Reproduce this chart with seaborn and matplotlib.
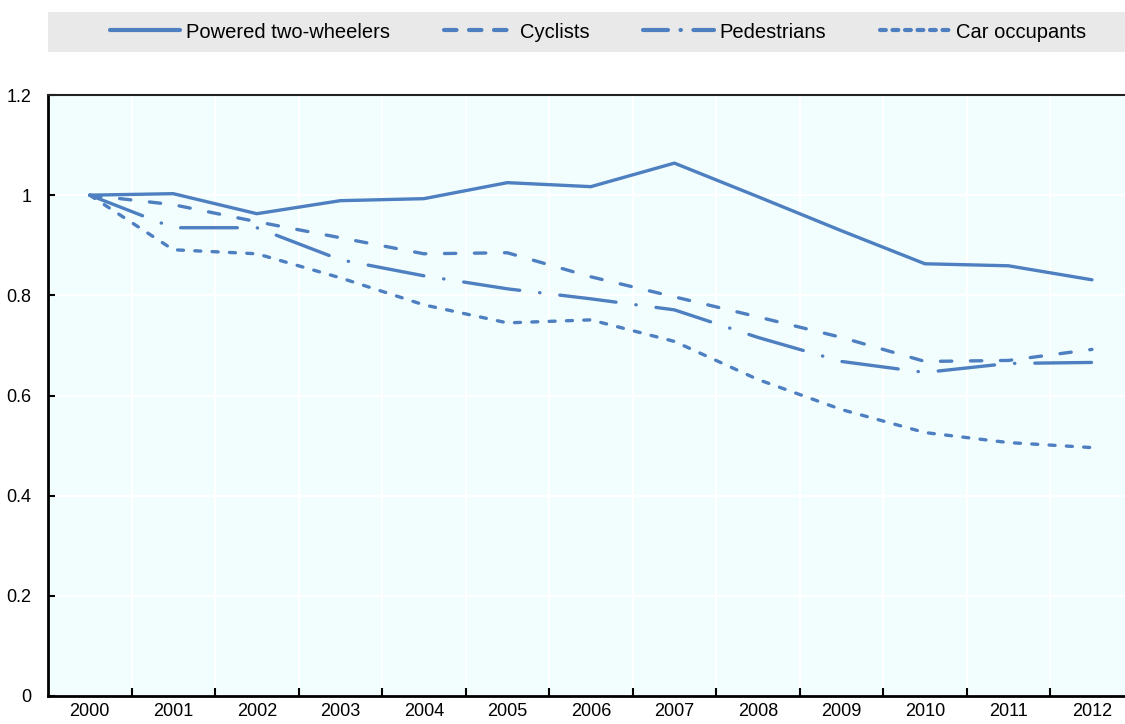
import matplotlib
matplotlib.use("Agg")
import matplotlib.pyplot as plt
import seaborn as sns
import pandas as pd
from matplotlib.patches import Rectangle
from matplotlib.lines import Line2D
from matplotlib.ticker import FixedLocator

years = [str(y) for y in range(2000, 2013)]
powered_two_wheelers = [1.0, 1.003, 0.963, 0.989, 0.993, 1.025, 1.017, 1.064, 0.997, 0.929, 0.863, 0.859, 0.831]
cyclists = [1.0, 0.981, 0.947, 0.915, 0.883, 0.885, 0.837, 0.797, 0.757, 0.716, 0.668, 0.670, 0.692]
pedestrians = [1.0, 0.935, 0.935, 0.871, 0.839, 0.813, 0.793, 0.771, 0.716, 0.668, 0.646, 0.664, 0.666]
car_occupants = [1.0, 0.891, 0.883, 0.835, 0.781, 0.745, 0.751, 0.708, 0.632, 0.572, 0.526, 0.506, 0.496]
series_names = ["Powered two-wheelers", "Cyclists", "Pedestrians", "Car occupants"]
y_ticks = [0, 0.2, 0.4, 0.6, 0.8, 1.0, 1.2]
y_tick_labels = ["0", "0.2", "0.4", "0.6", "0.8", "1", "1.2"]

rows = []
for name, vals in zip(series_names, [powered_two_wheelers, cyclists, pedestrians, car_occupants]):
    for i, v in enumerate(vals):
        rows.append({"x": i, "value": v, "series": name})
df = pd.DataFrame(rows)

sns.set_theme(style="white")
plt.rcParams["font.family"] = ["Liberation Sans", "DejaVu Sans"]
tick_fs = 13
leg_fs = 14.5

color = "#4E7FC0"
W, H = 1125, 724
fig = plt.figure(figsize=(W / 100, H / 100), dpi=100)
ax = fig.add_axes([48 / W, 1 - 696 / H, (W - 48) / W, (696 - 95) / H])
ax.set_facecolor("#F2FEFE")

dashes = {
    "Powered two-wheelers": "",
    "Cyclists": (3.4, 5.6),
    "Pedestrians": (17, 6, 0.1, 6),
    "Car occupants": (1.8, 3.4),
}
lw = 2.4
sns.lineplot(data=df, x="x", y="value", hue="series", style="series",
             palette=[color] * 4, dashes=dashes, linewidth=lw, ax=ax,
             hue_order=series_names, style_order=series_names, legend=False)
for line in ax.lines:
    line.set_dash_capstyle("round")
    line.set_solid_capstyle("round")

ax.set_xlim(-0.5, 12 + (W - 1092) / 83.4)
ax.set_ylim(0, 1.2)
ax.xaxis.set_major_locator(FixedLocator(range(len(years))))
ax.set_xticklabels(years)
ax.xaxis.set_minor_locator(FixedLocator([i + 0.5 for i in range(len(years) - 1)]))
ax.set_yticks(y_ticks)
ax.set_yticklabels(y_tick_labels)
ax.set_xlabel("")
ax.set_ylabel("")
ax.tick_params(axis="x", which="major", length=0, labelsize=tick_fs, pad=5, colors="black")
ax.tick_params(axis="x", which="minor", length=6, width=1.5, direction="in", bottom=True, color="black")
ax.tick_params(axis="y", which="major", length=5, width=1.5, direction="in", left=True,
               labelsize=tick_fs, pad=12, colors="black")

ax.grid(False)
for y in y_ticks[1:-1]:
    ax.axhline(y, color="white", linewidth=1.5, zorder=0.5)
for xb in [i + 0.5 for i in range(len(years) - 1)]:
    ax.axvline(xb, color="white", linewidth=1.5, zorder=0.5)

for s in ["left", "bottom"]:
    ax.spines[s].set_color("black")
    ax.spines[s].set_linewidth(2)
ax.spines["top"].set_color("#222222")
ax.spines["top"].set_linewidth(1.5)
ax.spines["right"].set_visible(False)

# legend band
fig.patches.append(Rectangle((48 / W, 1 - 52 / H), (W - 48) / W, 40 / H,
                             transform=fig.transFigure, facecolor="#E9E9E9",
                             edgecolor="none", zorder=0))
legend_dashes = [None, (3.0, 3.0), (6, 3.0, 0.1, 3.0), (1.4, 1.6)]
handles = []
for d in legend_dashes:
    h = Line2D([], [], color=color, linewidth=lw + 0.6)
    if d is None:
        h.set_linestyle("-")
    else:
        h.set_dashes(d)
        h.set_dash_capstyle("round")
    handles.append(h)
leg = fig.legend(handles, series_names, loc="center", ncol=4,
                 bbox_to_anchor=(598 / W, 1 - 32 / H),
                 frameon=False, fontsize=leg_fs, handlelength=3.5, handletextpad=0.3,
                 columnspacing=2.65)
for t in leg.get_texts():
    t.set_color("black")

fig.savefig("out.png", dpi=100)
